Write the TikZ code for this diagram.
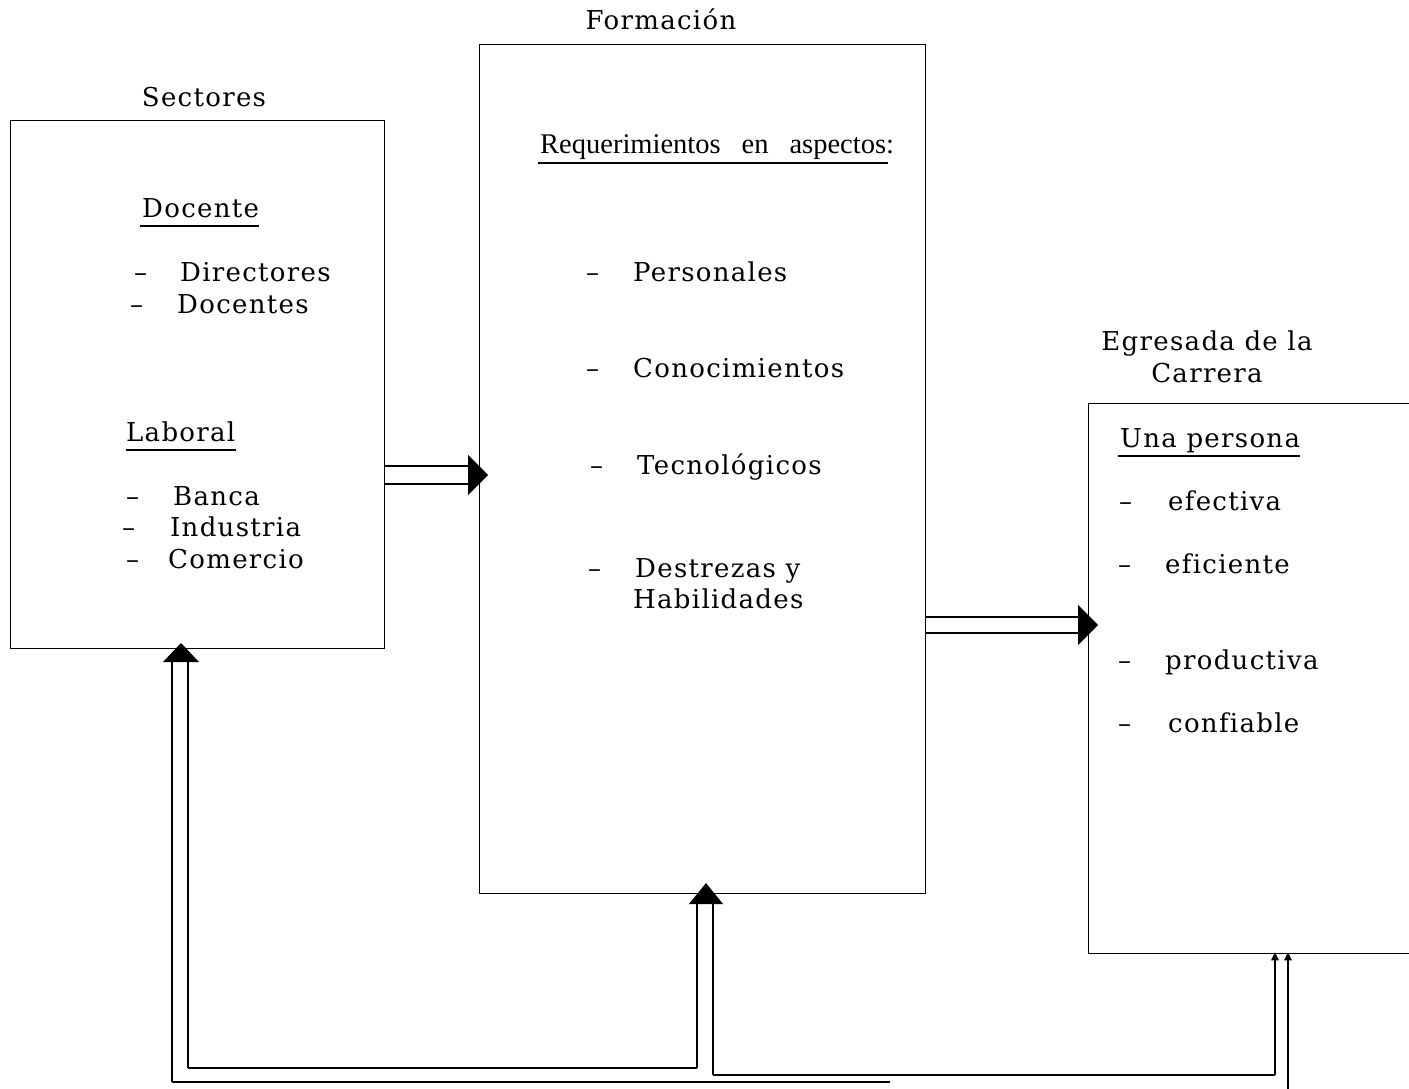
\documentclass[tikz,border=0pt]{standalone}
\usepackage{fontspec}
\setmainfont{DejaVu Serif}[LetterSpace=5,Ligatures={NoCommon}]
\newfontfamily\reqfont{Liberation Serif}
\usetikzlibrary{calc}
\begin{document}
\begin{tikzpicture}[x=1pt,y=-1pt,
  box/.style={draw, line width=1.3pt, anchor=north west, inner sep=0pt},
  lbl/.style={font=\fontsize{26}{32}\selectfont, inner sep=0pt, anchor=base west},
  ttl/.style={font=\fontsize{26}{32}\selectfont, inner sep=0pt, anchor=base, align=center},
  uline/.style={line width=1.2pt},
  pipe/.style={line width=1.6pt},
  head/.style={fill=black}
]
\useasboundingbox (0,0) rectangle (1409,1089);

% boxes
\node[box, minimum width=374pt, minimum height=528pt] (sec) at (10,120) {};
\node[box, minimum width=446pt, minimum height=849pt] (for) at (479,44) {};
\node[box, minimum width=360pt, minimum height=550pt] (egr) at (1088,403) {};

% titles
\node[ttl] (tsec) at (204,107) {Sectores};
\node[ttl] (tfor) at (661,30) {Formación};
\node[ttl] (tegr) at (1207,350) {Egresada de la};
\node[ttl] (tegr2) at (1207,382) {Carrera};

% Sectores contents
\node[lbl] (doc) at (142,217) {Docente};
\draw[uline] ($(doc.base west)+(-2,9)$) -- ($(doc.base east)+(0,9)$);
\node[lbl] (d1) at (134,281) {–};
\node[lbl] (dir) at (180,281) {Directores};
\node[lbl] (d2) at (130,313) {–};
\node[lbl] (dcs) at (177,313) {Docentes};
\node[lbl] (lab) at (126,441) {Laboral};
\draw[uline] ($(lab.base west)+(0,9)$) -- ($(lab.base east)+(0,9)$);
\node[lbl] (d3) at (126,505) {–};
\node[lbl] (ban) at (173,505) {Banca};
\node[lbl] (d4) at (122,536) {–};
\node[lbl] (ind) at (170,536) {Industria};
\node[lbl] (d5) at (126,568) {–};
\node[lbl] (com) at (168,568) {Comercio};

% Formacion contents
\node[lbl, font=\reqfont\fontsize{28.5}{34}\selectfont] (req) at (540,154)
  {Requerimientos\hspace{21pt}en\hspace{21pt}aspectos:};
\draw[uline] ($(req.base west)+(-2,9)$) -- ($(req.base east)+(-6,9)$);
\node[lbl] (f1) at (586,281) {–};
\node[lbl] (per) at (633,281) {Personales};
\node[lbl] (f2) at (586,377) {–};
\node[lbl] (con) at (633,377) {Conocimientos};
\node[lbl] (f3) at (590,474) {–};
\node[lbl] (tec) at (637,474) {Tecnológicos};
\node[lbl] (f4) at (588,577) {–};
\node[lbl] (des) at (635,577) {Destrezas y};
\node[lbl] (hab) at (633,608) {Habilidades};

% Egresada contents
\node[lbl] (una) at (1120,447) {Una persona};
\draw[uline] ($(una.base west)+(-2,9)$) -- ($(una.base east)+(0,9)$);
\node[lbl] (e1) at (1119,510) {–};
\node[lbl] (efe) at (1168,510) {efectiva};
\node[lbl] (e2) at (1118,573) {–};
\node[lbl] (efi) at (1165,573) {eficiente};
\node[lbl] (e3) at (1118,669) {–};
\node[lbl] (pro) at (1165,669) {productiva};
\node[lbl] (e4) at (1118,732) {–};
\node[lbl] (cnf) at (1168,732) {confiable};

% helper coordinates
\coordinate (a1t) at (488,475);
\coordinate (a2t) at (1098,625);
\coordinate (a3t) at (181,643);
\coordinate (a4t) at (706,883);
\coordinate (c1) at (188,1068);
\coordinate (c2) at (172,1082);
\coordinate (c3) at (697,1068);
\coordinate (c4) at (713,1075);
\coordinate (c5) at (1275,1075);
\coordinate (c6) at (1288,1089);
\coordinate (c7) at (890,1082);

% arrow Sectores -> Formacion
\draw[pipe] (sec.east |- 0,466) -- (472,466);
\draw[pipe] (sec.east |- 0,484) -- (472,484);
\fill[head] (a1t) -- ++(-20,-20) -- ++(0,40) -- cycle;

% arrow Formacion -> Egresada
\draw[pipe] (for.east |- 0,617) -- (1082,617);
\draw[pipe] (for.east |- 0,633) -- (1082,633);
\fill[head] (a2t) -- ++(-20,-20) -- ++(0,40) -- cycle;

% feedback to Sectores
\draw[pipe] (c2) -- (172,660) ;
\draw[pipe] (c1) -- (188,660);
\fill[head] (a3t) -- ++(-18,19) -- ++(36,0) -- cycle;

% feedback to Formacion
\draw[pipe] (c3) -- (697,903);
\draw[pipe] (c4) -- (713,903);
\fill[head] (a4t) -- ++(-17,21) -- ++(34,0) -- cycle;

% bottom lines
\draw[pipe] (c1) -- (c3);
\draw[pipe] (c2) -- (c7);
\draw[pipe] (c4) -- (c5);
\draw[pipe] (egr.south -| c5) -- (c5);
\draw[pipe] (egr.south -| c6) -- (c6);
\fill[head] ($(egr.south -| c5)+(0,-2)$) -- ++(-4,8) -- ++(8,0) -- cycle;
\fill[head] ($(egr.south -| c6)+(0,-2)$) -- ++(-4,8) -- ++(8,0) -- cycle;
\end{tikzpicture}
\end{document}
